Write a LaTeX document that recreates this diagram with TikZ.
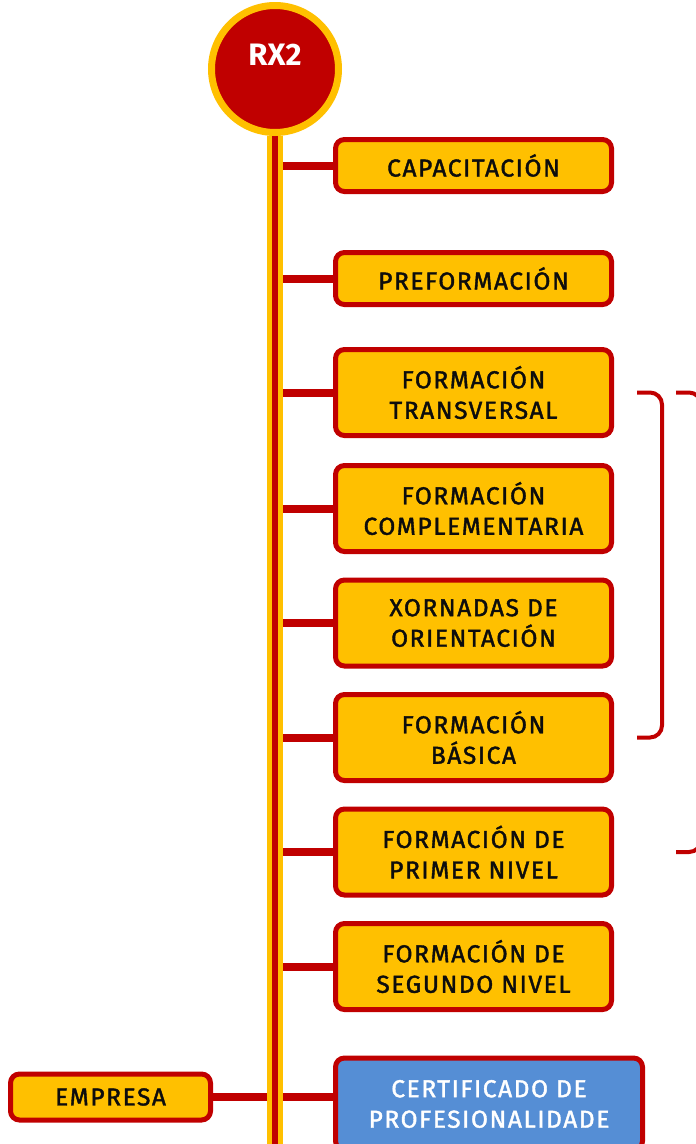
\documentclass[tikz,border=0pt]{standalone}
\usepackage{fontspec}
\setmainfont{Fira Sans}
\newfontfamily\cajafont{Fira Sans}[LetterSpace=6.5,FakeBold=1.6]
\usepackage{xcolor}
\usetikzlibrary{positioning,backgrounds}

\definecolor{rojo}{HTML}{C00000}
\definecolor{ambar}{HTML}{FFC000}
\definecolor{azul}{HTML}{558ED5}
\definecolor{tinta}{HTML}{0D0D0D}

\begin{document}
\begin{tikzpicture}[x=1pt,y=-1pt,
	caja/.style={draw=rojo, fill=ambar, line width=5pt, rounded corners=9pt,
		minimum width=276pt, minimum height=52pt, inner sep=0pt, align=center,
		text=tinta, font=\cajafont\fontsize{24.5}{30.5}\selectfont},
	caja2/.style={caja, minimum height=86pt},
	rama/.style={draw=rojo, line width=8pt},
	llave/.style={draw=rojo, line width=4pt, rounded corners=12pt}]
					%\draw[help lines] (0,0) grid[step=50] (696,1144);
					\useasboundingbox (0,0) rectangle (696,1144);
					\clip (0,0) rectangle (696,1144);
					
					\node[circle, draw=ambar, fill=rojo, line width=7pt, minimum size=127pt,
						label={[text=white, yshift=14pt, font=\fontsize{31}{32}\selectfont\bfseries]center:RX2}] (rx) at (275,69) {};
					\node[caja]  (cap)   at (473.5,165.5) {CAPACITACIÓN};
					\node[caja]  (pre)   at (473.5,278.5) {PREFORMACIÓN};
					\node[caja2] (trans) at (473.5,392.5) {FORMACIÓN\\TRANSVERSAL};
					\node[caja2] (comp)  at (473.5,508.5) {FORMACIÓN\\COMPLEMENTARIA};
					\node[caja2] (xorn)  at (473.5,623)   {XORNADAS DE\\ORIENTACIÓN};
					\node[caja2] (bas)   at (473.5,737.5) {FORMACIÓN\\BÁSICA};
					\node[caja2] (prim)  at (473.5,852)   {FORMACIÓN DE\\PRIMER NIVEL};
					\node[caja2] (seg)   at (473.5,966.5) {FORMACIÓN DE\\SEGUNDO NIVEL};
					\node[caja2, fill=azul, text=white, minimum width=307pt, minimum height=92pt, anchor=north] (cert) at (489,1055.5) {CERTIFICADO DE\\PROFESIONALIDADE};
					\node[caja, minimum width=200pt, minimum height=46pt] (emp) at (110.5,1097) {EMPRESA};
					\coordinate (fin) at (275,1144);
					
					\begin{scope}[on background layer]
						\foreach \n in {cap,pre,trans,comp,xorn,bas,prim,seg}{\draw[rama] (rx |- \n) -- (\n.west);}
						\draw[rama] (emp.east) -- (emp.east -| cert.west);
						\draw[ambar, line width=16pt] (rx.south) -- (fin);
						\draw[rojo, line width=6pt] (rx.south) -- (fin);
					\end{scope}
					
					\draw[llave] ([xshift=23pt]trans.east) -- ([xshift=48pt]trans.east) -- ([xshift=48pt]bas.east) -- ([xshift=23pt]bas.east);
					\draw[llave] ([xshift=62pt]trans.east) -- ([xshift=87pt]trans.east) -- ([xshift=87pt]prim.east) -- ([xshift=62pt]prim.east);
				\end{tikzpicture}
\end{document}
